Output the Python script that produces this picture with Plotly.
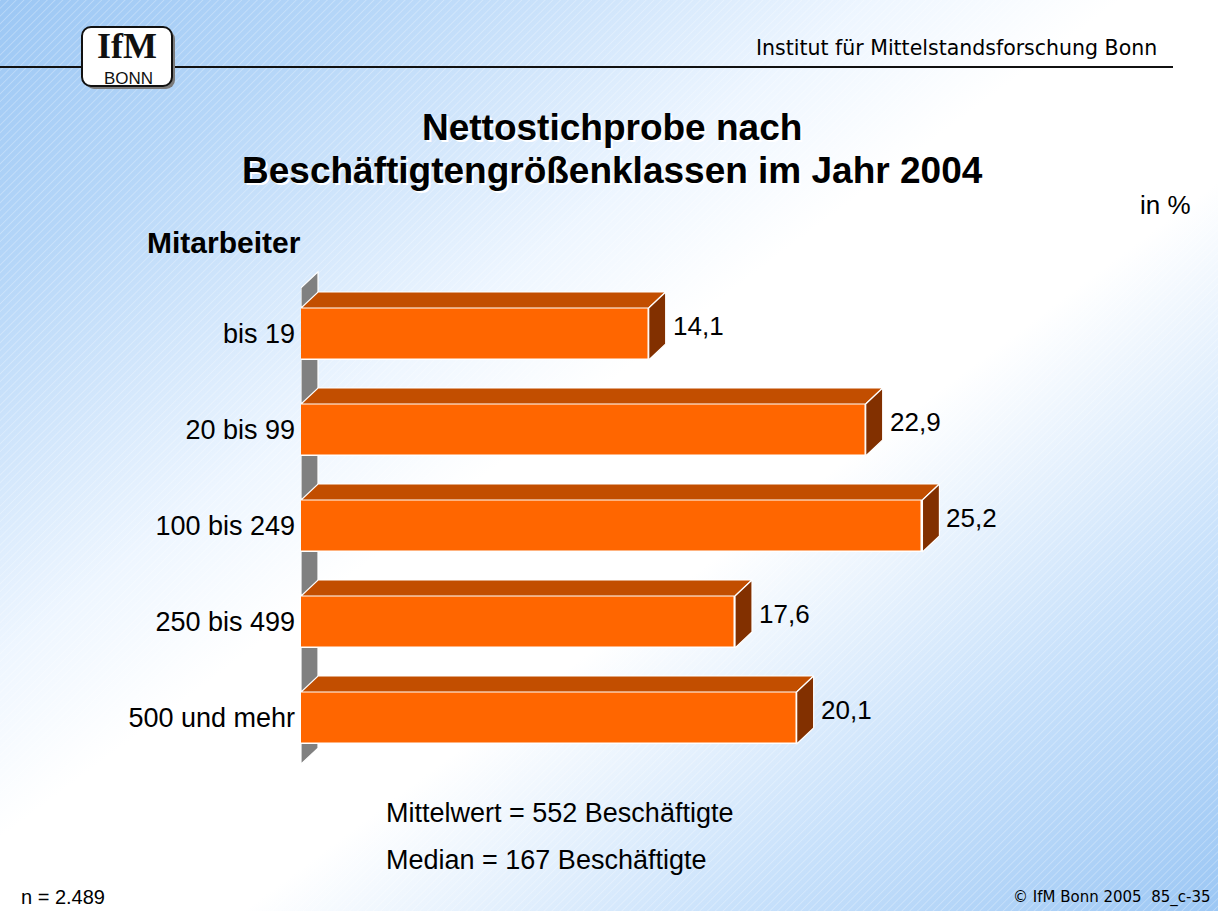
import base64
import plotly.graph_objects as go

# ---- data -------------------------------------------------------------
categories = ["bis 19", "20 bis 99", "100 bis 249", "250 bis 499", "500 und mehr"]
shares = [14.1, 22.9, 25.2, 17.6, 20.1]          # in %
mean_employees = 552
median_employees = 167
sample_size = "2.489"

# ---- page geometry (pixels) -------------------------------------------
W, H = 1218, 911
L, T = 301, 270                 # plot area top-left
PW, PH = 888, 510               # plot area size
PX_PER_UNIT = 24.66             # horizontal scale: px per percentage point
ROW_PX = 96                     # spacing between categories
FIRST_ROW_PX = 334              # centre of first category

X_MAX = PW / PX_PER_UNIT
Y_TOP = -(FIRST_ROW_PX - T) / ROW_PX
Y_BOTTOM = (T + PH - FIRST_ROW_PX) / ROW_PX

BAR_H = 52 / ROW_PX             # bar thickness in category units
DX = 17 / PX_PER_UNIT           # 3D depth offset, x
DY = 16 / ROW_PX                # 3D depth offset, y (upwards)

FRONT = "#FF6600"
TOP = "#C24E00"
SIDE = "#823000"
WALL = "#808080"


def px(x):
    return (x - L) / PW


def py(y):
    return (T + PH - y) / PH


def fmt(v):
    return f"{v:.1f}".replace(".", ",")


# ---- background: diagonal gradient with fine hatching, header rule, logo box
svg = f"""<svg xmlns='http://www.w3.org/2000/svg' width='{W}' height='{H}' viewBox='0 0 {W} {H}' preserveAspectRatio='none'>
<defs>
<linearGradient id='g' x1='0' y1='0' x2='1' y2='1'>
<stop offset='0' stop-color='#9CC7F4'/>
<stop offset='0.15' stop-color='#B5D6F8'/>
<stop offset='0.36' stop-color='#EEF6FF'/>
<stop offset='0.46' stop-color='#FFFFFF'/>
<stop offset='0.6' stop-color='#FFFFFF'/>
<stop offset='0.8' stop-color='#C8E1FB'/>
<stop offset='1' stop-color='#9CC7F4'/>
</linearGradient>
<pattern id='h' width='5.5' height='5.5' patternUnits='userSpaceOnUse' patternTransform='rotate(45)'>
<line x1='0' y1='0' x2='0' y2='5.5' stroke='#FFFFFF' stroke-width='0.9' stroke-opacity='0.55'/>
</pattern>
</defs>
<rect x='0' y='0' width='{W}' height='{H}' fill='url(#g)'/>
<rect x='0' y='0' width='{W}' height='{H}' fill='url(#h)'/>
<line x1='0' y1='67' x2='1173' y2='67' stroke='#111111' stroke-width='2'/>
<rect x='85' y='30' width='90' height='59' rx='9' ry='9' fill='#7a7a7a'/>
<rect x='82' y='27' width='90' height='59' rx='9' ry='9' fill='#FFFFFF' stroke='#111111' stroke-width='2'/>
</svg>"""
bg_src = "data:image/svg+xml;base64," + base64.b64encode(svg.encode("utf-8")).decode("ascii")

ypos = list(range(len(categories)))

fig = go.Figure()

# front faces
fig.add_trace(go.Bar(
    x=shares, y=ypos, orientation="h", width=BAR_H,
    marker=dict(color=FRONT, line=dict(color="#FFFFFF", width=1.5)),
    hoverinfo="skip", showlegend=False,
))

# top and side faces of each bar
for v, y in zip(shares, ypos):
    top_edge = y - BAR_H / 2
    bottom_edge = y + BAR_H / 2
    fig.add_trace(go.Scatter(
        x=[0, v, v + DX, DX, 0],
        y=[top_edge, top_edge, top_edge - DY, top_edge - DY, top_edge],
        mode="lines", fill="toself", fillcolor=TOP,
        line=dict(color="#FFFFFF", width=1.2),
        hoverinfo="skip", showlegend=False,
    ))
    fig.add_trace(go.Scatter(
        x=[v, v + DX, v + DX, v, v],
        y=[top_edge, top_edge - DY, bottom_edge - DY, bottom_edge, top_edge],
        mode="lines", fill="toself", fillcolor=SIDE,
        line=dict(color="#FFFFFF", width=1.2),
        hoverinfo="skip", showlegend=False,
    ))

# value labels
annotations = []
for v, y in zip(shares, ypos):
    annotations.append(dict(
        x=v + DX, y=y - DY / 2, xref="x", yref="y", text=fmt(v),
        showarrow=False, xanchor="left", yanchor="middle", xshift=5,
        font=dict(family="Liberation Sans, Arial", size=26, color="#000000"),
    ))

# gray side wall behind the bars
wall_top = -0.48
wall_bottom = len(categories) - 1 + 0.48
shapes = [dict(
    type="path", xref="x", yref="y", layer="below",
    path=f"M 0 {wall_top} L {DX} {wall_top - DY} L {DX} {wall_bottom - DY} L 0 {wall_bottom} Z",
    fillcolor=WALL, line=dict(color="#FFFFFF", width=1.2),
)]

black = "#000000"
arial = "Liberation Sans, Arial"
tahoma = "DejaVu Sans, Verdana"

texts = [
    # logo
    dict(x=px(127), y=py(46), text="<b>IfM</b>", xanchor="center", yanchor="middle",
         font=dict(family="Liberation Serif, Times New Roman", size=36, color="#111111")),
    dict(x=px(128), y=py(78), text="BONN", xanchor="center", yanchor="middle",
         font=dict(family=arial, size=17, color="#111111")),
    # header
    dict(x=px(1159), y=py(48), text="Institut für Mittelstandsforschung Bonn",
         xanchor="right", yanchor="middle", font=dict(family=tahoma, size=20.5, color=black)),
    # title
    dict(x=px(612), y=py(127), text="<b>Nettostichprobe nach</b>", xanchor="center", yanchor="middle",
         font=dict(family=arial, size=37, color=black, shadow="2px 2px 0px #FFFFFF")),
    dict(x=px(612), y=py(170), text="<b>Beschäftigtengrößenklassen im Jahr 2004</b>",
         xanchor="center", yanchor="middle",
         font=dict(family=arial, size=37, color=black, shadow="2px 2px 0px #FFFFFF")),
    dict(x=px(1193), y=py(205), text="in %", xanchor="right", yanchor="middle",
         font=dict(family=arial, size=26, color=black)),
    dict(x=px(145), y=py(243), text="<b>Mitarbeiter</b>", xanchor="left", yanchor="middle",
         font=dict(family=arial, size=30, color=black)),
    # statistics
    dict(x=px(384), y=py(813), text=f"Mittelwert = {mean_employees} Beschäftigte",
         xanchor="left", yanchor="middle", font=dict(family=arial, size=27, color=black)),
    dict(x=px(384), y=py(860), text=f"Median = {median_employees} Beschäftigte",
         xanchor="left", yanchor="middle", font=dict(family=arial, size=27, color=black)),
    # footer
    dict(x=px(19), y=py(897), text=f"n = {sample_size}", xanchor="left", yanchor="middle",
         font=dict(family=arial, size=20, color=black)),
    dict(x=px(1212), y=py(897), text="© IfM Bonn 2005  85_c-35", xanchor="right", yanchor="middle",
         font=dict(family=tahoma, size=15, color=black)),
]
for t in texts:
    t.update(xref="paper", yref="paper", showarrow=False)
    annotations.append(t)

fig.update_layout(
    width=W, height=H,
    margin=dict(l=L, r=W - L - PW, t=T, b=H - T - PH, pad=0),
    paper_bgcolor="rgba(0,0,0,0)", plot_bgcolor="rgba(0,0,0,0)",
    xaxis=dict(range=[0, X_MAX], visible=False, fixedrange=True),
    yaxis=dict(range=[Y_BOTTOM, Y_TOP], tickvals=ypos, ticktext=categories,
               showgrid=False, zeroline=False, showline=False, ticks="",
               ticklabelstandoff=5,
               tickfont=dict(family=arial, size=27, color=black), fixedrange=True),
    bargap=0,
    shapes=shapes,
    annotations=annotations,
    images=[dict(source=bg_src, xref="paper", yref="paper",
                 x=px(0), y=py(0), sizex=W / PW, sizey=H / PH,
                 xanchor="left", yanchor="top", sizing="stretch", layer="below")],
    showlegend=False,
)

fig.write_html("out.html")
